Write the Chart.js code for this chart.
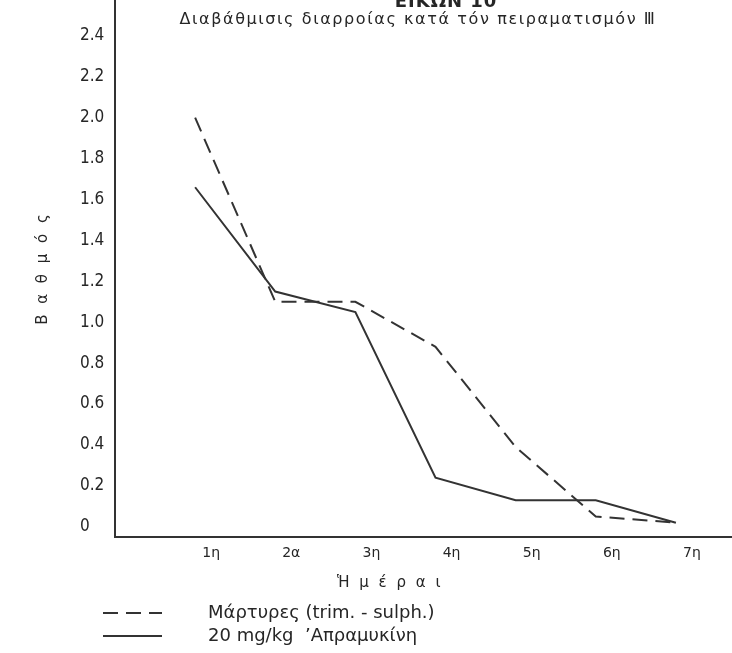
<!DOCTYPE html>
<html>
<head>
<meta charset="utf-8">
<title>Εικών 10</title>
<style>
  html, body { margin: 0; padding: 0; background: #fff; overflow: hidden; }
  #wrap { position: relative; width: 732px; height: 653px; overflow: hidden; }
  #chart { position: absolute; left: 0; top: -20px; }
</style>
</head>
<body>
<div id="wrap"><canvas id="chart" width="732" height="673"></canvas></div>
<script src="https://cdn.jsdelivr.net/npm/chart.js@4.4.1/dist/chart.umd.min.js"></script>
<script>
// days on the x axis and their printed labels
let days = [1, 2, 3, 4, 5, 6, 7]
let dayLabels = ['1η', '2α', '3η', '4η', '5η', '6η', '7η']

// y ticks as printed on the figure
let yTicks = [0, 0.2, 0.4, 0.6, 0.8, 1.0, 1.2, 1.4, 1.6, 1.8, 2.0, 2.2, 2.4, 2.6]
let yTickLabels = ['0', '0.2', '0.4', '0.6', '0.8', '1.0', '1.2', '1.4', '1.6', '1.8', '2.0', '2.2', '2.4', '2.6']

// grade of diarrhoea per day
let martyres = [2.0, 1.1, 1.1, 0.88, 0.39, 0.05, 0.02]
let apramycin = [1.66, 1.15, 1.05, 0.24, 0.13, 0.13, 0.02]

let seriesLabels = ['Μάρτυρες (trim. - sulph.)', '20 mg/kg  ’Απραμυκίνη']
let titleText = 'ΕΙΚΩΝ 10'
let subtitleText = 'Διαβάθμισις διαρροίας κατά τόν πειραματισμόν Ⅲ'
let xTitle = 'Ἡ μ έ ρ α ι'
let yTitle = 'Β α θ μ ό ς'

const INK = '#262626'
const LINE = '#333333'
const FONT = '"DejaVu Sans", sans-serif'
const NARROW = '"DejaVu Sans Condensed", "DejaVu Sans", sans-serif'

let toPoints = (values) => days.map((d, i) => ({ x: d, y: values[i] }))

// texts and legend sit where the printed figure has them
let paperText = {
  id: 'paperText',
  afterDraw (chart) {
    let ctx = chart.ctx
    ctx.save()
    ctx.fillStyle = INK
    ctx.textAlign = 'center'

    ctx.font = 'bold 18px ' + FONT
    ctx.letterSpacing = '1px'
    ctx.textBaseline = 'alphabetic'
    ctx.fillText(titleText, 446, 27)

    ctx.font = '16px ' + FONT
    ctx.letterSpacing = '1.6px'
    ctx.textBaseline = 'middle'
    ctx.fillText(subtitleText, 418, 40)

    ctx.font = '15px ' + FONT
    ctx.letterSpacing = '2.5px'
    ctx.fillText(xTitle, 390, 603)

    ctx.save()
    ctx.translate(43, 288)
    ctx.rotate(-Math.PI / 2)
    ctx.letterSpacing = '3px'
    ctx.fillText(yTitle, 0, 0)
    ctx.restore()

    ctx.letterSpacing = '0px'
    ctx.font = '18px ' + FONT
    ctx.textAlign = 'left'
    chart.data.datasets.forEach((ds, i) => {
      let y = 633 + i * 23
      ctx.beginPath()
      ctx.setLineDash(ds.borderDash || [])
      ctx.strokeStyle = ds.borderColor
      ctx.lineWidth = ds.borderWidth
      ctx.moveTo(103, y)
      ctx.lineTo(162, y)
      ctx.stroke()
      ctx.fillText(ds.label, 208, y)
    })
    ctx.restore()
  }
}

new Chart(document.getElementById('chart'), {
  type: 'line',
  data: {
    datasets: [
      {
        label: seriesLabels[0],
        data: toPoints(martyres),
        borderColor: LINE,
        borderWidth: 2,
        borderDash: [15, 8],
        pointRadius: 0,
        tension: 0,
        fill: false
      },
      {
        label: seriesLabels[1],
        data: toPoints(apramycin),
        borderColor: LINE,
        borderWidth: 2,
        pointRadius: 0,
        tension: 0,
        fill: false
      }
    ]
  },
  options: {
    responsive: false,
    animation: false,
    layout: { padding: { top: 15, left: 80, right: 0, bottom: 0 } },
    plugins: {
      legend: { display: false },
      tooltip: { enabled: false }
    },
    scales: {
      x: {
        type: 'linear',
        min: 0,
        max: 7.7,
        grid: { display: false, drawTicks: false },
        border: { display: true, color: LINE, width: 2 },
        afterBuildTicks (scale) {
          scale.ticks = days.map(v => ({ value: v }))
        },
        afterFit (scale) {
          scale.height = 116
        },
        ticks: {
          color: INK,
          font: { family: FONT, size: 14 },
          padding: 8,
          labelOffset: 16,
          maxRotation: 0,
          autoSkip: false,
          callback: (value, i) => dayLabels[i]
        }
      },
      y: {
        type: 'linear',
        min: -0.05,
        max: 2.6,
        grid: { display: false, drawTicks: false },
        border: { display: true, color: LINE, width: 2 },
        afterBuildTicks (scale) {
          scale.ticks = yTicks.map(v => ({ value: v }))
        },
        afterFit (scale) {
          scale.width = 35
        },
        ticks: {
          color: INK,
          font: { family: NARROW, size: 17 },
          crossAlign: 'far',
          padding: 0,
          autoSkip: false,
          callback: (value, i) => yTickLabels[i]
        }
      }
    }
  },
  plugins: [paperText]
})
</script>
</body>
</html>
